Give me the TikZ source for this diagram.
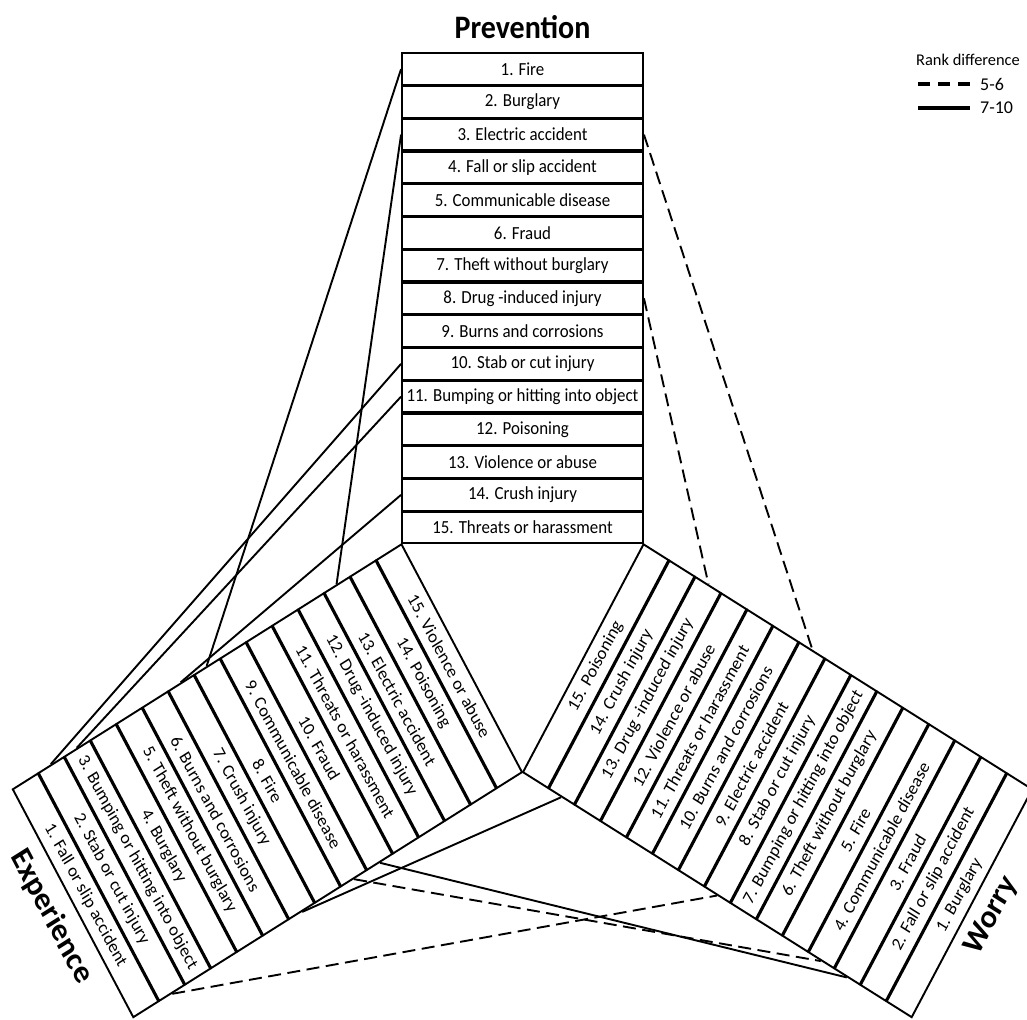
\documentclass[tikz,border=0pt]{standalone}
\usepackage{fontspec}
\setmainfont{Carlito}
\begin{document}
\begin{tikzpicture}[x=1pt,y=1pt,
  box/.style={draw, line width=1.9pt, minimum width=241pt, minimum height=28.8pt,
    inner sep=0pt, transform shape, fill=white, font=\fontsize{16.9}{18}\selectfont},
  ttl/.style={transform shape, inner sep=0pt, font=\fontsize{30}{32}\selectfont\bfseries},
  link/.style={line width=1.9pt},
  dlink/.style={line width=1.9pt, dash pattern=on 13pt off 6.5pt},
  legtitle/.style={anchor=west, inner sep=0pt, font=\fontsize{16.4}{18}\selectfont},
  leglab/.style={anchor=west, inner sep=0pt, font=\fontsize{18}{20}\selectfont},
]
\useasboundingbox (0,0) rectangle (1027,-1019);

% Prevention column
\begin{scope}[shift={(402,-544)}, yscale=1.0917]
  \foreach \t [count=\i] in {Fire, Burglary, Electric accident, Fall or slip accident,
    Communicable disease, Fraud, Theft without burglary, Drug -induced injury,
    Burns and corrosions, Stab or cut injury, Bumping or hitting into object,
    Poisoning, Violence or abuse, Crush injury, Threats or harassment}
    \node[box] (p\i) at (120.5, {(15.5-\i)*30}) {\i. \t};
  \node[ttl] (tp) at (120.5, 473.6) {Prevention};
\end{scope}

% Experience column
\begin{scope}[shift={(12.29,-789.63)}, yscale=1.0917, rotate=-60]
  \foreach \t [count=\i] in {Fall or slip accident, Stab or cut injury,
    Bumping or hitting into object, Burglary, Theft without burglary,
    Burns and corrosions, Crush injury, Fire, Communicable disease, Fraud,
    Threats or harassment, Drug -induced injury, Electric accident, Poisoning,
    Violence or abuse}
    \node[box] (e\i) at (120.5, {(\i-0.5)*30}) {\i. \t};
  \node[ttl] (te) at (120.5, -24) {Experience};
\end{scope}

% Worry column
\begin{scope}[shift={(912.21,-1017.48)}, yscale=1.0917, rotate=60]
  \foreach \t [count=\i] in {Burglary, Fall or slip accident, Fraud,
    Communicable disease, Fire, Theft without burglary,
    Bumping or hitting into object, Stab or cut injury, Electric accident,
    Burns and corrosions, Threats or harassment, Violence or abuse,
    Drug -induced injury, Crush injury, Poisoning}
    \node[box] (w\i) at (120.5, {(\i-0.5)*30}) {\i. \t};
  \node[ttl] (tw) at (120.5, -22) {Worry};
\end{scope}

% Prevention -> Experience
\draw[link] (p1.west) -- (e8.west);
\draw[link] (p3.west) -- (e13.west);
\draw[link] (p10.west) -- (e2.west);
\draw[link] (p11.west) -- (e3.west);
\draw[link] (p14.west) -- (e7.west);
% Prevention -> Worry
\draw[dlink] (p3.east) -- (w9.east);
\draw[dlink] (p8.east) -- (w13.east);
% Experience -> Worry
\draw[dlink] (e2.east) -- (w8.west);
\draw[dlink] (e9.east) -- (w4.west);
\draw[link] (e7.east) -- (w14.west);
\draw[link] (e10.east) -- (w3.west);

% Legend
\node[legtitle] (lgt) at (916,-59.5) {Rank difference};
\coordinate (d1) at (918,-84);
\coordinate (d2) at (970,-84);
\coordinate (s1) at (918,-108);
\coordinate (s2) at (970,-108);
\draw[line width=3.2pt, dash pattern=on 12pt off 8pt] (d1) -- (d2);
\draw[line width=3.2pt] (s1) -- (s2);
\node[leglab] (l56) at (980,-84) {5-6};
\node[leglab] (l710) at (980,-108) {7-10};
\end{tikzpicture}
\end{document}
